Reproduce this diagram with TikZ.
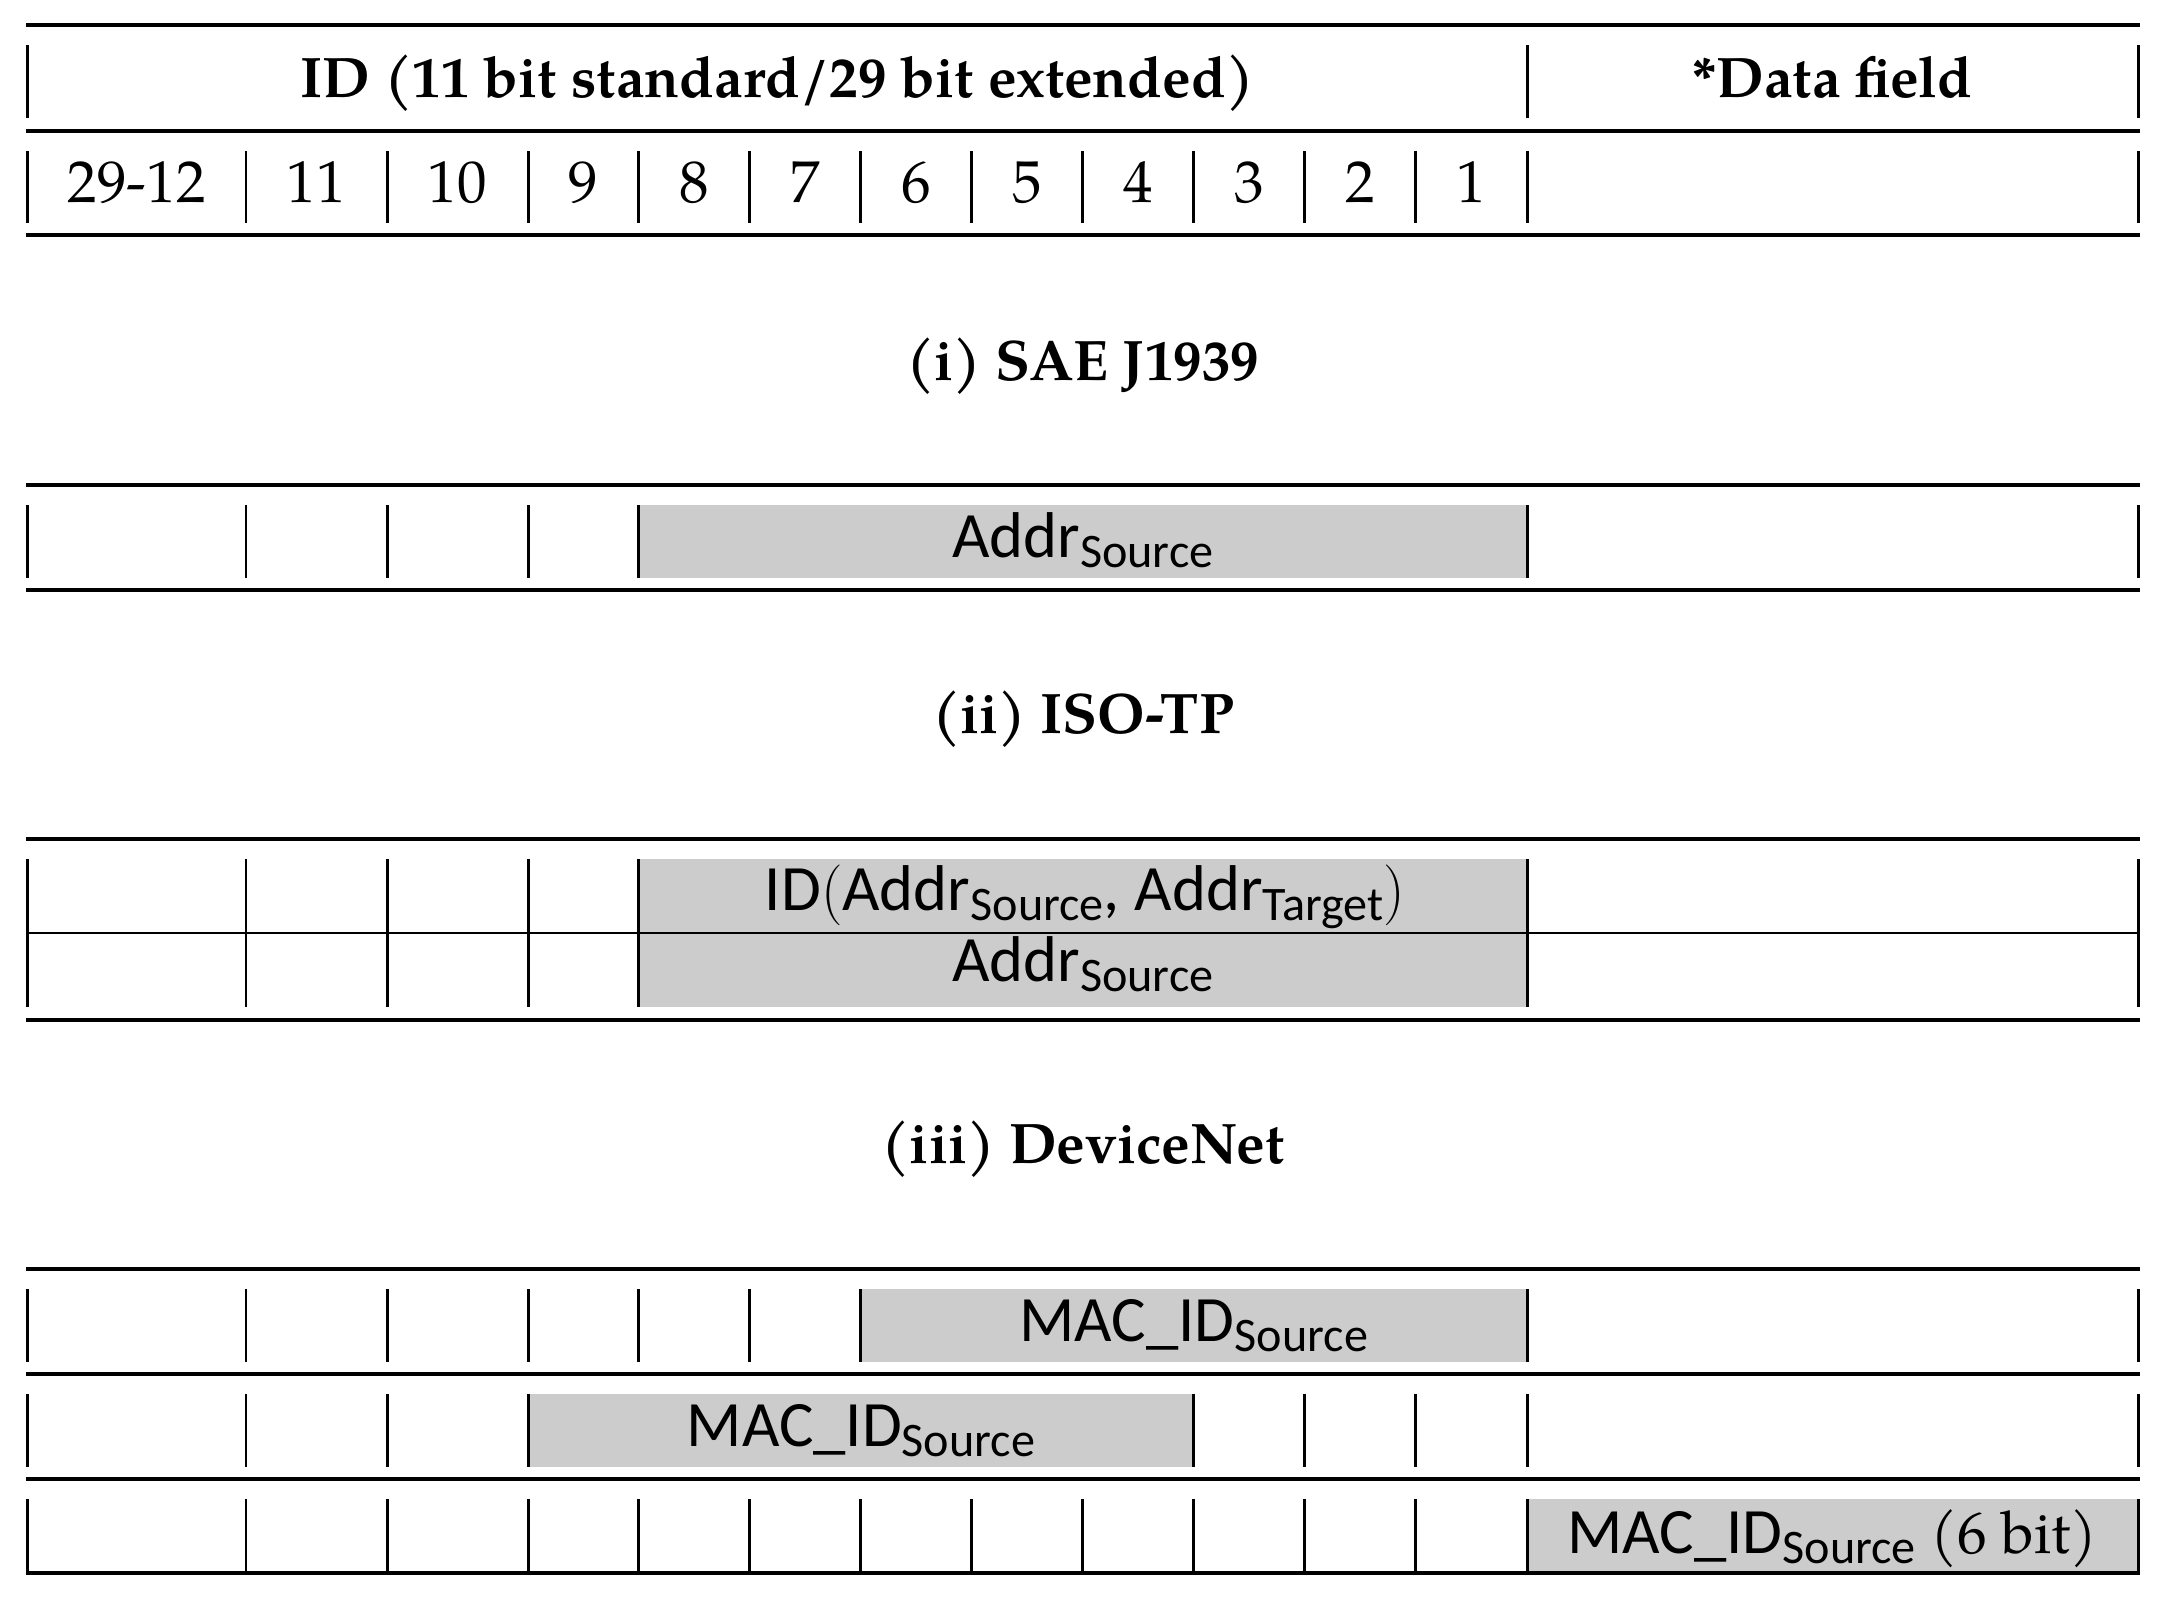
\documentclass[tikz,border=0pt]{standalone}
\usepackage{fontspec}
\setmainfont{texgyrepagella}[Extension=.otf,UprightFont=*-regular,BoldFont=*-bold,ItalicFont=*-italic,BoldItalicFont=*-bolditalic]
\newfontfamily\carl{Carlito}
\newcommand\rmtext{\fontsize{16.8}{20}\selectfont\rmfamily}
\newcommand\bftext{\fontsize{16.25}{20}\selectfont\rmfamily\bfseries}
\newcommand\sftext{\fontsize{18.4}{22}\selectfont\carl}
\newcommand\lowsub[1]{\raisebox{-0.1cm}{\fontsize{13.7}{15}\selectfont #1}}
\definecolor{fieldgray}{HTML}{CCCCCC}
\tikzset{
  rule/.style={line width=1pt},
  thinrule/.style={line width=0.6pt},
  sepbar/.style={line width=0.85pt},
  field/.style={fill=fieldgray,draw=none},
  rmlbl/.style={anchor=base,inner sep=0pt,font=\rmtext},
  bflbl/.style={anchor=base,inner sep=0pt,font=\bftext},
  sflbl/.style={anchor=base,inner sep=0pt,font=\sftext},
}
\begin{document}
\begin{tikzpicture}[x=0.01cm,y=-0.01cm]
\useasboundingbox (0,0) rectangle (2167,1599);
% ---------- Section 1: header ----------
\foreach \y in {25,131,235} \draw[rule] (26,\y) -- (2139.5,\y);
\foreach \x in {27.6,1527,2138} \draw[sepbar] (\x,45) -- (\x,118);
\foreach \x in {27.6,246,387,528,638.5,749.6,860.6,971.7,1082.7,1193.8,1304.8,1415.9,1527,2138}
  \draw[sepbar] (\x,151) -- (\x,222.5);
\node[bflbl] (hid) at (777.3,97) {ID (11 bit standard/29 bit extended)};
\node[bflbl] (hdata) at (1832.5,97) {*Data field};
\foreach \x/\t [count=\i] in {136.8/29-12,316.5/11,457.5/10,583.25/9,694/8,805.1/7,916.1/6,1027.2/5,1138.2/4,1249.3/3,1360.3/2,1471.4/1}
  \node[rmlbl] (bit\i) at (\x,202) {\t};
% ---------- titles ----------
\node[bflbl] (t1) at (1083,380) {(i) SAE J1939};
\node[bflbl] (t2) at (1083,733) {(ii) ISO-TP};
\node[bflbl] (t3) at (1083,1163) {(iii) DeviceNet};
% ---------- Section 2: SAE J1939 ----------
\fill[field] (638.5,505) rectangle (1527,577.5);
\foreach \y in {485,590} \draw[rule] (26,\y) -- (2139.5,\y);
\foreach \x in {27.6,246,387,528,638.5,1527,2138} \draw[sepbar] (\x,505) -- (\x,577.5);
\node[sflbl] (s2a) at (1082.7,557) {Addr\lowsub{Source}};
% ---------- Section 3: ISO-TP ----------
\fill[field] (638.5,859) rectangle (1527,1007);
\foreach \y in {839,1020} \draw[rule] (26,\y) -- (2139.5,\y);
\draw[thinrule] (26,933) -- (2139.5,933);
\foreach \x in {27.6,246,387,528,638.5,1527,2138} \draw[sepbar] (\x,859) -- (\x,1007);
\node[sflbl] (s3a) at (1085,910) {ID$($Addr\lowsub{Source}, Addr\lowsub{Target}$)$};
\node[sflbl] (s3b) at (1082.7,981.7) {Addr\lowsub{Source}};
% ---------- Section 4: DeviceNet ----------
\fill[field] (860.6,1289) rectangle (1527,1361.5);
\fill[field] (528,1394) rectangle (1193.8,1466.5);
\fill[field] (1527,1499) rectangle (2138,1573);
\foreach \y in {1269,1374,1479,1573} \draw[rule] (26,\y) -- (2139.5,\y);
\foreach \x in {27.6,246,387,528,638.5,749.6,860.6,1527,2138} \draw[sepbar] (\x,1289) -- (\x,1361.5);
\foreach \x in {27.6,246,387,528,1193.8,1304.8,1415.9,1527,2138} \draw[sepbar] (\x,1394) -- (\x,1466.5);
\foreach \x in {27.6,246,387,528,638.5,749.6,860.6,971.7,1082.7,1193.8,1304.8,1415.9,1527,2138}
  \draw[sepbar] (\x,1499) -- (\x,1573);
\node[sflbl] (s4a) at (1193.8,1341) {MAC\_ID\lowsub{Source}};
\node[sflbl] (s4b) at (860.9,1446) {MAC\_ID\lowsub{Source}};
\node[sflbl] (s4c) at (1832.5,1553) {MAC\_ID\lowsub{Source} {\rmtext (6 bit)}};
\end{tikzpicture}
\end{document}
